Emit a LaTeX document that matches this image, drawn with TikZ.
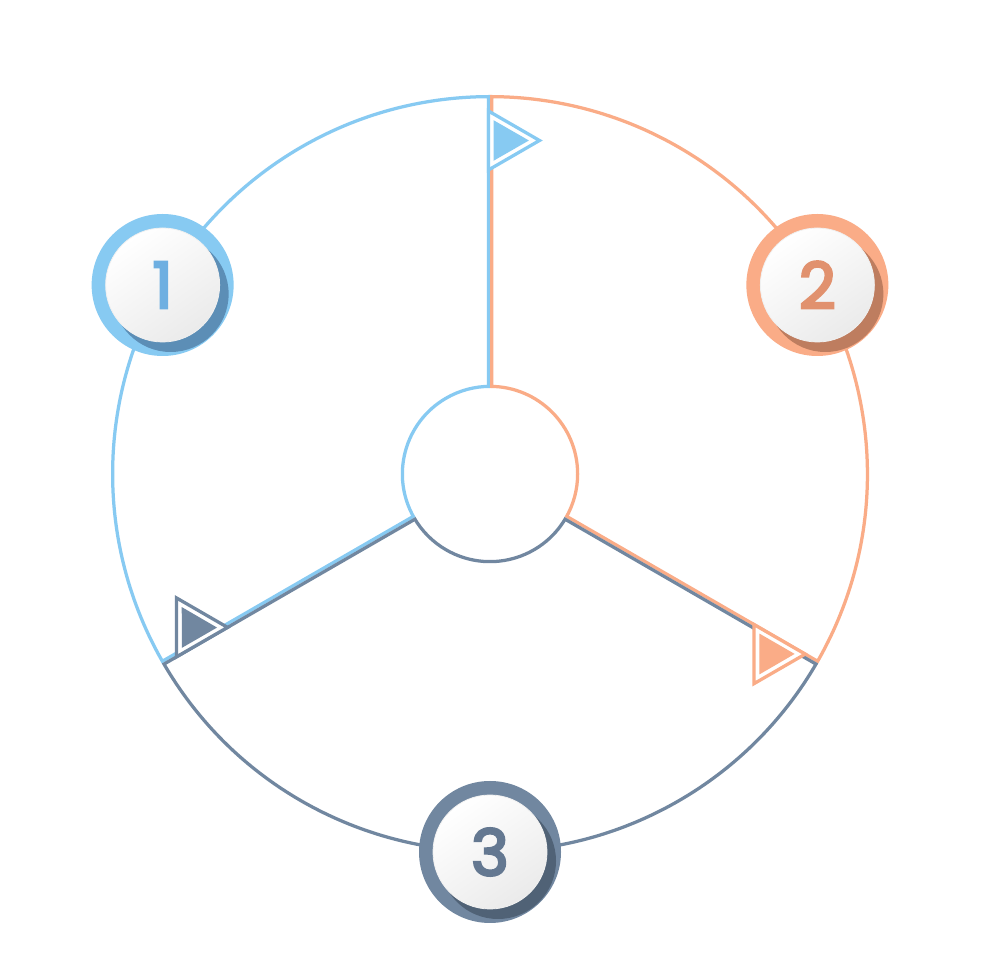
\documentclass[tikz,border=0pt]{standalone}
\usepackage{fontspec}
\newfontfamily\digitfont{Poppins}[FakeBold=4]
\definecolor{blueC}{RGB}{135,202,242}
\definecolor{orangeC}{RGB}{250,172,135}
\definecolor{grayC}{RGB}{113,135,160}
\definecolor{blueS}{RGB}{92,142,182}
\definecolor{orangeS}{RGB}{190,125,95}
\definecolor{grayS}{RGB}{80,98,118}
\definecolor{blueD}{RGB}{110,175,225}
\definecolor{orangeD}{RGB}{225,145,110}
\definecolor{grayD}{RGB}{100,120,145}
\tikzset{
  sectorline/.style={line width=6.5pt},
  flagline/.style={line width=3.25pt, line join=miter, fill=white},
  digit/.style={font=\digitfont\fontsize{64}{64}\selectfont, inner sep=0pt}
}
\begin{document}
\begin{tikzpicture}[x=1pt,y=1pt]
\useasboundingbox (0,0) rectangle (980,980);
\fill[white] (0,0) rectangle (980,980);
\begin{scope}[shift={(490,506)}]
% sectors
\foreach \a/\c in {90/blueC, -30/orangeC, 210/grayC} {
  \begin{scope}
    \clip (\a:379) arc[start angle=\a, end angle={\a+120}, radius=379]
      -- ({\a+120}:86) arc[start angle={\a+120}, end angle=\a, radius=86] -- cycle;
    \draw[sectorline, \c] (\a:379) arc[start angle=\a, end angle={\a+120}, radius=379]
      -- ({\a+120}:86) arc[start angle={\a+120}, end angle=\a, radius=86] -- cycle;
  \end{scope}
}
% flags
\foreach \r/\c in {0/blueC, 120/grayC, 240/orangeC} {
  \begin{scope}[rotate=\r]
    \draw[flagline, draw=\c] (-1.6,304) -- (-1.6,363) -- (49.5,333.5) -- cycle;
    \fill[\c] (3.5,313.2) -- (3.5,353.8) -- (38.9,333.5) -- cycle;
  \end{scope}
}
% badges
\foreach \a/\c/\n in {150/blue/1, 30/orange/2, 270/gray/3} {
  \coordinate (b\n) at (\a:378);
  \fill[\c C] (b\n) circle[radius=71];
  \begin{scope}
    \clip (b\n) circle[radius=71];
    \fill[\c S] ([shift={(8,-9)}]b\n) circle[radius=58];
  \end{scope}
  \shade[top color=white, bottom color=black!8, shading angle=35] (b\n) circle[radius=57];
  \draw[black!6, line width=0.8pt] (b\n) circle[radius=57];
  \node[digit, text=\c D] (n\n) at (b\n) {\n};
}
\end{scope}
\end{tikzpicture}
\end{document}
